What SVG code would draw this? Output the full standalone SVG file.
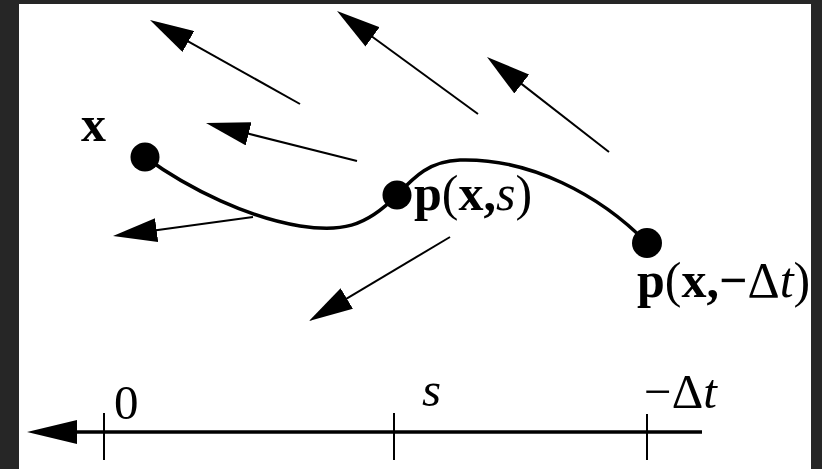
<svg xmlns="http://www.w3.org/2000/svg" width="822" height="469" viewBox="0 0 822 469">
  <style>
    .vec { stroke: #000; stroke-width: 2; fill: none; marker-end: url(#head); }
    .curve { stroke: #000; stroke-width: 3.5; fill: none; stroke-linecap: round; }
    .dot { fill: #000; }
    .lbl { font-family: "Liberation Serif", "Times New Roman", serif; font-size: 50px; fill: #000; }
    .ax { font-size: 49px; }
    .b { font-weight: bold; }
    .i { font-style: italic; }
    .axis { stroke: #000; stroke-width: 3.5; fill: none; }
    .tick { stroke: #000; stroke-width: 2; fill: none; }
  </style>
  <defs>
    <marker id="head" markerUnits="userSpaceOnUse" viewBox="0 0 44 24" markerWidth="44" markerHeight="24" refX="8" refY="12" orient="auto">
      <path d="M0,0 L44,12 L0,24 Z" fill="#000"/>
    </marker>
  </defs>
  <rect x="0" y="0" width="822" height="469" fill="#262626"/>
  <rect x="19" y="4" width="792" height="465" fill="#fff"/>

  <g id="connectors">
    <path class="curve" d="M145,157 C190,190 250,218 300,226 C340,232 365,228 397,195 C415,176 430,161 460,160 C530,158 600,195 647,243"/>
    <line class="vec" x1="300" y1="104" x2="181.4" y2="37.6"/>
    <line class="vec" x1="357" y1="161" x2="240.9" y2="131.8"/>
    <line class="vec" x1="253" y1="217" x2="148.7" y2="231.2"/>
    <line class="vec" x1="478" y1="114" x2="366.1" y2="32.2"/>
    <line class="vec" x1="609" y1="152" x2="515.4" y2="79.1"/>
    <line class="vec" x1="450" y1="237" x2="339.9" y2="302.6"/>
  </g>

  <g id="node-x">
    <circle class="dot" cx="145" cy="157" r="14.5"/>
    <text class="lbl b" x="81" y="141">x</text>
  </g>
  <g id="node-p-s">
    <circle class="dot" cx="397" cy="195" r="14.5"/>
    <text class="lbl" x="414" y="210"><tspan class="b">p</tspan>(<tspan class="b">x,</tspan><tspan class="i">s</tspan>)</text>
  </g>
  <g id="node-p-dt">
    <circle class="dot" cx="647" cy="243" r="15"/>
    <text class="lbl" x="637" y="297"><tspan class="b">p</tspan>(<tspan class="b">x,−</tspan>Δ<tspan class="i">t</tspan>)</text>
  </g>

  <g id="axis">
    <line class="axis" x1="74" y1="432" x2="702" y2="432"/>
    <path d="M27,432 L77,420 L77,444 Z" fill="#000"/>
    <line class="tick" x1="104" y1="413" x2="104" y2="460"/>
    <line class="tick" x1="394" y1="413" x2="394" y2="460"/>
    <line class="tick" x1="647" y1="414" x2="647" y2="460"/>
    <text class="lbl ax" x="114" y="419">0</text>
    <text class="lbl ax i" x="422" y="406">s</text>
    <text class="lbl ax" x="644" y="408">−Δ<tspan class="i">t</tspan></text>
  </g>
</svg>
